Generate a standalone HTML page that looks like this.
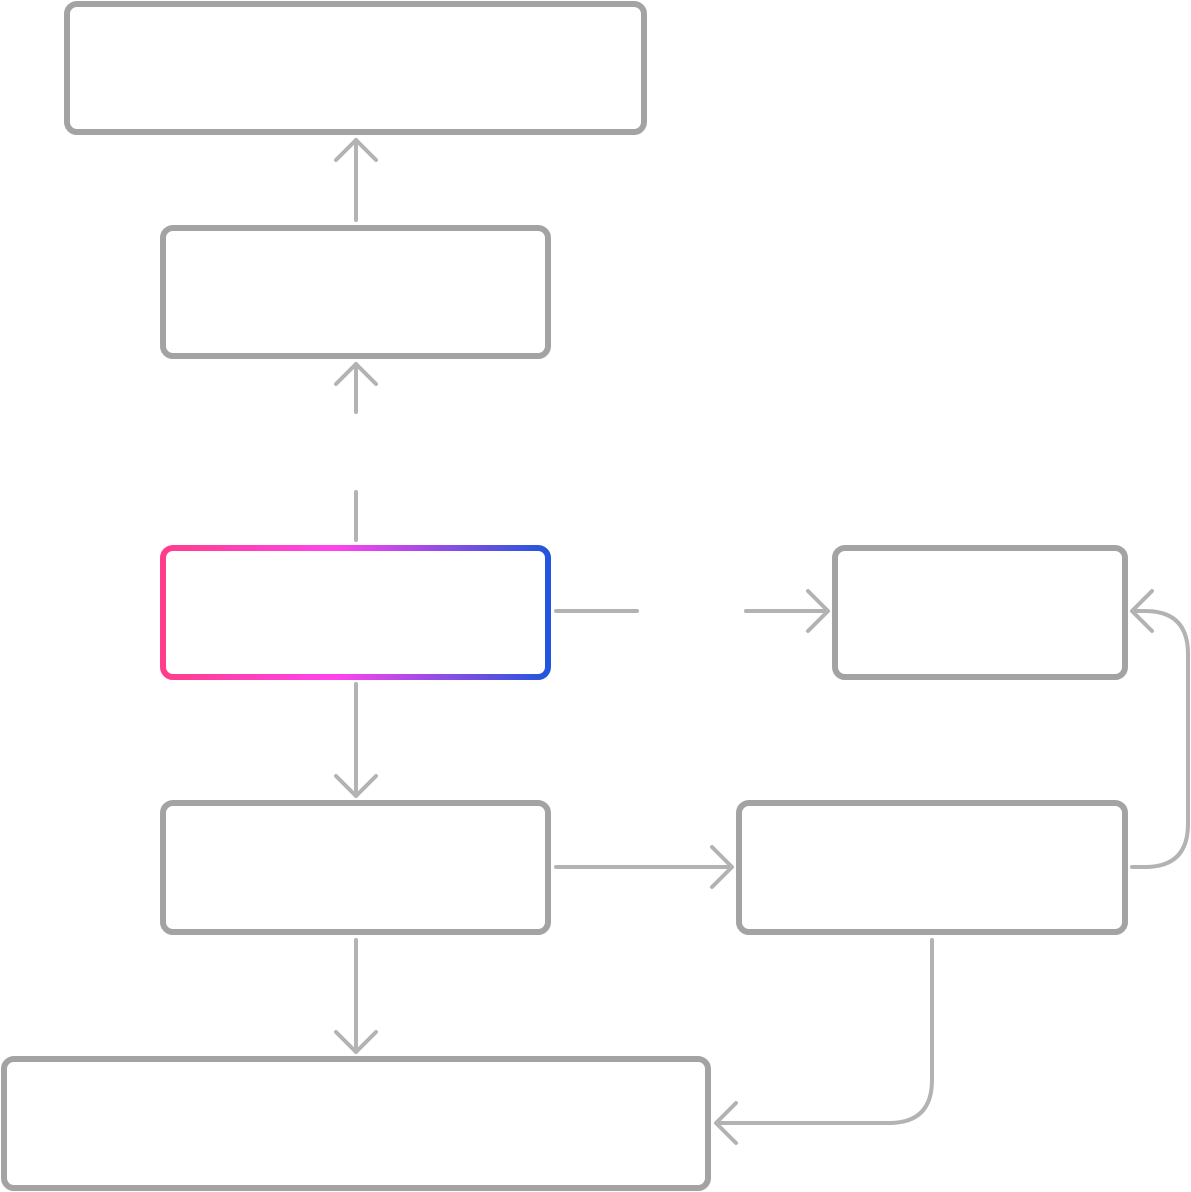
<!DOCTYPE html>
<html><head><style>html,body{margin:0;padding:0;background:#fff}svg{display:block}</style></head>
<body>
<svg width="1191" height="1192" viewBox="0 0 1191 1192" xmlns="http://www.w3.org/2000/svg">
<defs>
<linearGradient id="g" x1="163" y1="0" x2="548" y2="0" gradientUnits="userSpaceOnUse">
<stop offset="0" stop-color="#ff3d8b"/>
<stop offset="0.45" stop-color="#ff44ee"/>
<stop offset="1" stop-color="#2255dd"/>
</linearGradient>
</defs>
<g fill="#fff" stroke="#a3a3a3" stroke-width="6">
<rect x="67" y="4" width="577" height="128" rx="10"/>
<rect x="163" y="228" width="385" height="128" rx="10"/>
<rect x="835" y="548" width="290" height="129" rx="10"/>
<rect x="163" y="803" width="385" height="129" rx="10"/>
<rect x="739" y="803" width="386" height="129" rx="10"/>
<rect x="4" y="1059" width="704" height="129" rx="10"/>
<rect x="163" y="548" width="385" height="129" rx="10" stroke="url(#g)"/>
</g>
<g fill="none" stroke="#b3b3b3" stroke-width="4" stroke-linecap="round" stroke-linejoin="round">
<path d="M356 220V140M336 160L356 140L376 160"/>
<path d="M356 412V364M336 384L356 364L376 384"/>
<path d="M356 492V540"/>
<path d="M356 684V796M336 776L356 796L376 776"/>
<path d="M556 611H637"/>
<path d="M746 611H828M808 591L828 611L808 631"/>
<path d="M556 867H732M712 847L732 867L712 887"/>
<path d="M1132 867H1145Q1188 867 1188 824V654Q1188 611 1145 611H1132M1152 591L1132 611L1152 631"/>
<path d="M932 940V1080Q932 1123 889 1123H716M736 1103L716 1123L736 1143"/>
<path d="M356 940V1052M336 1032L356 1052L376 1032"/>
</g>
</svg>
</body></html>
